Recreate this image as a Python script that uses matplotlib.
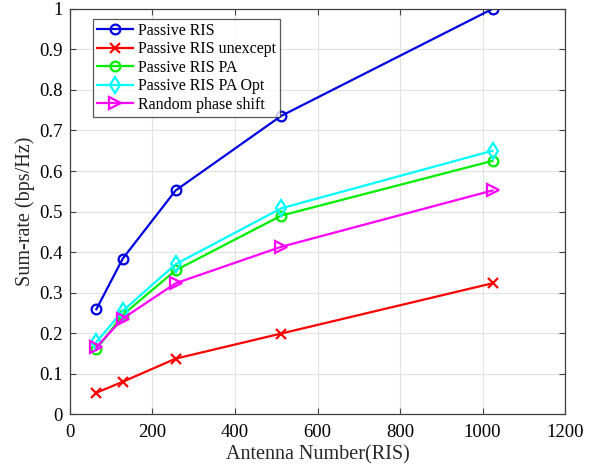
import matplotlib
matplotlib.use("Agg")
import matplotlib.pyplot as plt

antennas = [64, 128, 256, 512, 1024]
passive_ris = [0.259, 0.384, 0.552, 0.736, 1.0]
passive_unexcept = [0.053, 0.080, 0.137, 0.199, 0.323]
passive_pa = [0.160, 0.245, 0.355, 0.490, 0.625]
passive_pa_opt = [0.178, 0.255, 0.370, 0.508, 0.650]
random_phase = [0.165, 0.236, 0.323, 0.413, 0.552]

labels = ["Passive RIS", "Passive RIS unexcept", "Passive RIS PA",
          "Passive RIS PA Opt", "Random phase shift"]

plt.rcParams['font.family'] = ['Liberation Serif', 'DejaVu Serif']

fig = plt.figure(figsize=(5.93, 4.68), dpi=100)
ax = fig.add_axes([0.118, 0.115, 0.835, 0.866])

styles = [
    (passive_ris, '#0000e0', 'o', 7),
    (passive_unexcept, '#ff0000', 'x', 7),
    (passive_pa, '#00ee00', 'o', 7),
    (passive_pa_opt, '#00ffff', 'd', 8),
    (random_phase, '#ff00ff', '>', 8),
]
for (vals, col, mk, ms), lab in zip(styles, labels):
    ax.plot(antennas, vals, color=col, marker=mk, markersize=ms,
            markerfacecolor='none', markeredgecolor=col, markeredgewidth=1.6,
            linewidth=1.6, label=lab)

ax.set_xlim(0, 1200)
ax.set_ylim(0, 1)
ax.set_xticks(range(0, 1201, 200))
ax.set_yticks([i / 10 for i in range(11)])
ax.set_yticklabels(['0'] + [f'{i/10:g}' for i in range(1, 10)] + ['1'])
ax.grid(True, color='#e2e2e2', linewidth=0.8)
ax.set_axisbelow(True)
ax.tick_params(direction='in', labelsize=13.5, top=True, right=True, length=4,
               color='#404040')
ax.tick_params(axis='x', pad=7)
ax.tick_params(axis='y', pad=5)
for sp in ax.spines.values():
    sp.set_color('#404040')
    sp.set_linewidth(0.9)

ax.set_xlabel('Antenna Number(RIS)', fontsize=14.5, labelpad=3, color='#262626')
ax.set_ylabel('Sum-rate (bps/Hz)', fontsize=14.5, labelpad=3, color='#262626')

leg = ax.legend(loc='upper left', bbox_to_anchor=(0.046, 0.975), fontsize=11.5,
                frameon=True, fancybox=False, edgecolor='#303030',
                handlelength=2.3, borderpad=0.25, labelspacing=0.15,
                handletextpad=0.3, borderaxespad=0)
leg.get_frame().set_linewidth(0.9)

fig.savefig('out.png', dpi=100)
